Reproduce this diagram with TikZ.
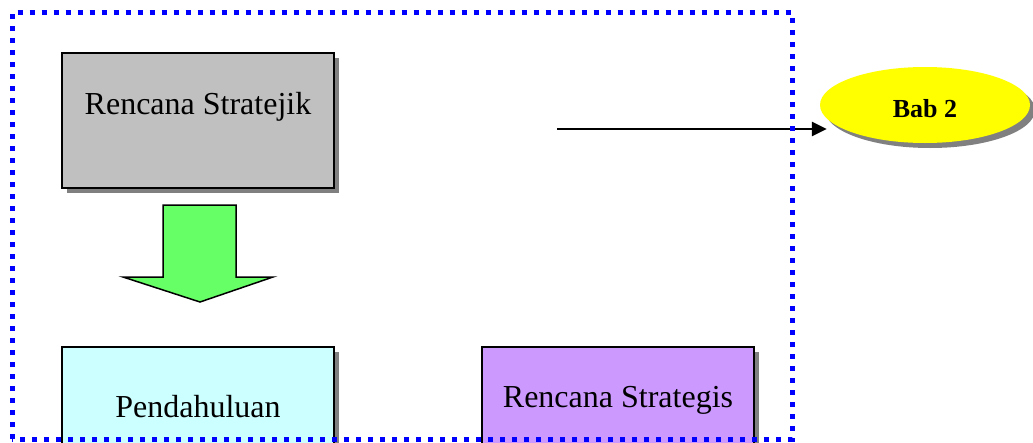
\documentclass[tikz,border=0pt]{standalone}
\usepackage{fontspec}
\setmainfont{Liberation Serif}
\usetikzlibrary{shadows,shapes.geometric,arrows.meta}
\definecolor{boxgray}{HTML}{C0C0C0}
\definecolor{shadowgray}{HTML}{808080}
\definecolor{arrowgreen}{HTML}{66FF66}
\definecolor{paleblue}{HTML}{CCFFFF}
\definecolor{lilac}{HTML}{CC99FF}
\definecolor{bab}{HTML}{FFFF00}
\definecolor{framedot}{HTML}{0000FF}
\tikzset{
  card/.style={draw=black, line width=2pt, inner sep=0pt,
    drop shadow={shadow xshift=5pt, shadow yshift=-5pt, fill=shadowgray, opacity=1}},
  caption/.style={font=\fontsize{32}{38}\selectfont, anchor=base, inner sep=0pt},
  frame/.style={draw=framedot, line width=5pt, dash pattern=on 5pt off 7pt}
}
\begin{document}
\begin{tikzpicture}[x=1pt, y=-1pt]
  \useasboundingbox (0,0) rectangle (1033,442);
  \clip (0,0) rectangle (1033,442);

  % top box
  \node[card, fill=boxgray, minimum width=272pt, minimum height=135pt] (rs) at (198,120.5) {};
  \node[caption] (rsT) at (198,114) {Rencana Stratejik};

  % block arrow pointing down
  \draw[fill=arrowgreen, line width=1.5pt, line join=miter]
    (163,205) -- (236,205) -- (236,277) -- (273,277) -- (200,302)
    -- (123,277) -- (163,277) -- cycle;

  % lower boxes, running past the page bottom
  \node[card, fill=paleblue, minimum width=272pt, minimum height=113pt] (pd) at (198,403.5) {};
  \node[caption] (pdT) at (198,417) {Pendahuluan};

  \node[card, fill=lilac, minimum width=272pt, minimum height=113pt] (rsg) at (618,403.5) {};
  \node[caption] (rsgT) at (618,407) {Rencana Strategis};

  % chapter badge
  \node[ellipse, fill=bab, inner sep=0pt, minimum width=210pt, minimum height=76pt,
    drop shadow={shadow xshift=5pt, shadow yshift=-5pt, fill=shadowgray, opacity=1}] (bab2) at (925,105) {};
  \node[anchor=base, inner sep=0pt, font=\fontsize{26}{30}\selectfont\bfseries] (babT) at (925,117) {Bab 2};

  % arrow to the badge
  \coordinate (arrS) at (557,129);
  \draw[line width=2.5pt, -{Triangle[length=15pt, width=14pt]}, shorten >=-7pt]
    (arrS) -- (arrS -| bab2.west);

  % dotted frame
  \draw[frame] (12,439) -- (12,12.5) -- (792,12.5) -- (792,439) -- cycle;
\end{tikzpicture}
\end{document}
